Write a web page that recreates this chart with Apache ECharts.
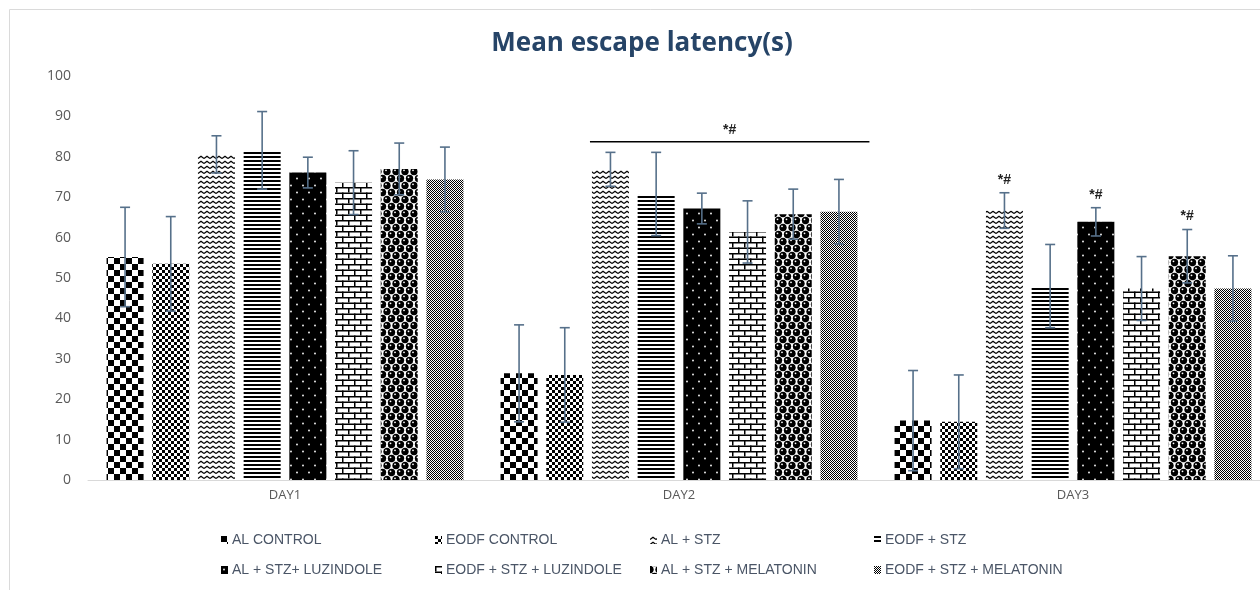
<!DOCTYPE html>
<html>
<head>
<meta charset="utf-8">
<script src="https://cdn.jsdelivr.net/npm/echarts@6/dist/echarts.min.js"></script>
<style>
html,body{margin:0;padding:0;background:#fff;overflow:hidden;width:1260px;height:590px;}
#chart{width:1290px;height:590px;}
</style>
</head>
<body>
<div id="chart"></div>
<script>
// ---------------- data ----------------
const days = ['DAY1', 'DAY2', 'DAY3'];
const groupNames = ['AL CONTROL', 'EODF CONTROL', 'AL + STZ', 'EODF + STZ',
  'AL + STZ+ LUZINDOLE', 'EODF + STZ + LUZINDOLE', 'AL + STZ + MELATONIN', 'EODF + STZ + MELATONIN'];

// mean escape latency per group, values for DAY1, DAY2, DAY3
const alControl        = [55.2, 26.4, 14.7];
const eodfControl      = [53.5, 26.0, 14.4];
const alStz            = [80.6, 76.9, 66.7];
const eodfStz          = [81.6, 70.8, 48.0];
const alStzLuz         = [76.1, 67.2, 63.9];
const eodfStzLuz       = [73.6, 61.4, 47.4];
const alStzMel         = [77.0, 65.8, 55.4];
const eodfStzMel       = [74.4, 66.4, 47.4];

// error (SD) per group, DAY1, DAY2, DAY3
const alControlErr     = [12.3, 12.0, 12.4];
const eodfControlErr   = [11.7, 11.7, 11.6];
const alStzErr         = [4.6, 4.2, 4.4];
const eodfStzErr       = [9.6, 10.3, 10.3];
const alStzLuzErr      = [3.8, 3.8, 3.5];
const eodfStzLuzErr    = [7.9, 7.7, 7.9];
const alStzMelErr      = [6.4, 6.2, 6.6];
const eodfStzMelErr    = [8.0, 8.0, 8.1];

const yTicks = [0, 10, 20, 30, 40, 50, 60, 70, 80, 90, 100];

// significance marks
const bracketMarks = [{ day: 1, fromGroup: 2, toGroup: 7, level: 83.7, text: '*#' }];
const singleMarks = [{ day: 2, group: 2, text: '*#' }, { day: 2, group: 4, text: '*#' }, { day: 2, group: 6, text: '*#' }];

const means = [alControl, eodfControl, alStz, eodfStz, alStzLuz, eodfStzLuz, alStzMel, eodfStzMel];
const errs = [alControlErr, eodfControlErr, alStzErr, eodfStzErr, alStzLuzErr, eodfStzLuzErr, alStzMelErr, eodfStzMelErr];

// ---------------- patterns ----------------
function tile(w, h, draw, bg) {
  const c = document.createElement('canvas');
  c.width = w; c.height = h;
  const g = c.getContext('2d');
  g.fillStyle = bg || '#fff';
  g.fillRect(0, 0, w, h);
  draw(g);
  return c;
}
function disc(g, x, y, r) { g.beginPath(); g.arc(x, y, r, 0, Math.PI * 2); g.fill(); }
const patterns = [
  tile(12, 12, g => { g.fillStyle = '#000'; g.fillRect(0, 0, 6, 6); g.fillRect(6, 6, 6, 6); }),
  tile(6, 6, g => { g.fillStyle = '#000'; g.fillRect(0, 0, 3, 3); g.fillRect(3, 3, 3, 3); }),
  tile(6, 5, g => { g.strokeStyle = '#000'; g.lineWidth = 1.2; g.beginPath(); g.moveTo(0, 3.6); g.lineTo(3, 1.2); g.lineTo(6, 3.6); g.stroke(); }),
  tile(4, 4, g => { g.fillStyle = '#000'; g.fillRect(0, 0, 4, 2); }),
  tile(12, 14, g => { g.fillStyle = '#fff'; disc(g, 3, 3.5, 0.9); disc(g, 9, 10.5, 0.9); }, '#000'),
  tile(12, 11, g => { g.fillStyle = '#000'; g.fillRect(0, 0, 12, 1.5); g.fillRect(0, 5.5, 12, 1.5); g.fillRect(0, 0, 1.5, 5.5); g.fillRect(6, 5.5, 1.5, 5.5); }),
  tile(9, 14, g => {
    g.fillStyle = '#000';
    [[0, 3.5], [9, 3.5], [4.5, 10.5], [0, 17.5], [9, 17.5], [4.5, -3.5]].forEach(p => disc(g, p[0], p[1], 3.7));
    g.fillStyle = '#fff';
    [[0, 3.5], [9, 3.5], [4.5, 10.5]].forEach(p => disc(g, p[0] - 1, p[1] - 1.2, 0.9));
  }),
  tile(2, 2, g => { g.fillStyle = '#000'; g.fillRect(0, 0, 1, 1); g.fillRect(1, 1, 1, 1); })
];

// ---------------- chart ----------------
const BAR_W = 37;
const GAP_RATIO = 0.235;
const PITCH = BAR_W * (1 + GAP_RATIO);

const chart = echarts.init(document.getElementById('chart'), null, { renderer: 'canvas' });

const barSeries = groupNames.map((name, i) => ({
  type: 'bar',
  name: name,
  data: means[i],
  barWidth: BAR_W,
  barGap: (GAP_RATIO * 100) + '%',
  itemStyle: { color: { image: patterns[i], repeat: 'repeat' } },
  emphasis: { disabled: true },
  animation: false
}));

const errData = [];
for (let g = 0; g < groupNames.length; g++) {
  for (let d = 0; d < days.length; d++) {
    errData.push([d, g, means[g][d], errs[g][d]]);
  }
}

const errSeries = {
  type: 'custom',
  name: 'err',
  z: 10,
  silent: true,
  animation: false,
  encode: { x: 0, y: 2 },
  data: errData,
  renderItem: function (params, api) {
    const d = api.value(0), g = api.value(1), m = api.value(2), e = api.value(3);
    const c = api.coord([d, m]);
    const x = c[0] + (g - 3.5) * PITCH;
    const yt = api.coord([d, m + e])[1];
    const yb = api.coord([d, m - e])[1];
    const st = { stroke: '#56708a', lineWidth: 1.6 };
    return {
      type: 'group',
      children: [
        { type: 'line', shape: { x1: x, y1: yt, x2: x, y2: yb }, style: st },
        { type: 'line', shape: { x1: x - 5, y1: yt, x2: x + 5, y2: yt }, style: st },
        { type: 'line', shape: { x1: x - 5, y1: yb, x2: x + 5, y2: yb }, style: st }
      ]
    };
  }
};

const singleData = singleMarks.map(s => [s.day, s.group, means[s.group][s.day] + errs[s.group][s.day], s.text]);
const singleSeries = {
  type: 'custom',
  z: 11,
  silent: true,
  animation: false,
  encode: { x: 0, y: 2 },
  data: singleData,
  renderItem: function (params, api) {
    const d = api.value(0), g = api.value(1), top = api.value(2);
    const c = api.coord([d, top]);
    return {
      type: 'text',
      style: {
        x: c[0] + (g - 3.5) * PITCH, y: c[1] - 13,
        text: singleMarks[params.dataIndex].text,
        align: 'center', verticalAlign: 'middle',
        font: 'bold 14px "Liberation Sans", sans-serif', fill: '#222'
      }
    };
  }
};

const bracketData = bracketMarks.map(b => [b.day, b.fromGroup, b.level, b.toGroup]);
const bracketSeries = {
  type: 'custom',
  z: 11,
  silent: true,
  animation: false,
  encode: { x: 0, y: 2 },
  data: bracketData,
  renderItem: function (params, api) {
    const d = api.value(0), f = api.value(1), lv = api.value(2), t = api.value(3);
    const c = api.coord([d, lv]);
    const x1 = c[0] + (f - 3.5) * PITCH - BAR_W / 2 - 2;
    const x2 = c[0] + (t - 3.5) * PITCH + BAR_W / 2 + 12;
    return {
      type: 'group',
      children: [
        { type: 'line', shape: { x1: x1, y1: c[1], x2: x2, y2: c[1] }, style: { stroke: '#000', lineWidth: 1.5 } },
        { type: 'text', style: { x: (x1 + x2) / 2, y: c[1] - 12, text: bracketMarks[params.dataIndex].text, align: 'center', verticalAlign: 'middle', font: 'bold 14px "Liberation Sans", sans-serif', fill: '#222' } }
      ]
    };
  }
};

const legendCols = [221, 435, 650, 874];
const legendRows = [532, 562];
const legends = groupNames.map((name, i) => ({
  data: [name],
  left: legendCols[i % 4],
  top: legendRows[Math.floor(i / 4)],
  padding: 0,
  itemWidth: 7,
  itemHeight: 8,
  itemGap: 0,
  icon: 'rect',
  selectedMode: false,
  textStyle: { fontFamily: '"Liberation Sans", sans-serif', fontSize: 14, color: '#4a5566', lineHeight: 16, padding: [0, 0, 0, -1] }
}));

chart.setOption({
  backgroundColor: '#fff',
  animation: false,
  title: {
    text: 'Mean escape latency(s)',
    left: 637,
    textAlign: 'center',
    top: 26,
    textStyle: { fontFamily: '"Open Sans", sans-serif', fontWeight: 'bold', fontSize: 26, color: '#264467' }
  },
  legend: legends,
  graphic: [{
    type: 'rect', silent: true, z: -10,
    shape: { x: 9.5, y: 9.5, width: 1400, height: 800 },
    style: { fill: 'none', stroke: '#dadada', lineWidth: 1 }
  }],
  grid: { left: 88, top: 76, width: 1182, height: 404, containLabel: false },
  xAxis: {
    type: 'category',
    data: days,
    axisLine: { lineStyle: { color: '#d9d9d9', width: 1 } },
    axisTick: { show: false },
    axisLabel: { color: '#595959', fontFamily: '"Open Sans", sans-serif', fontSize: 13, margin: 9 }
  },
  yAxis: {
    type: 'value',
    min: yTicks[0],
    max: yTicks[yTicks.length - 1],
    interval: yTicks[1] - yTicks[0],
    axisLine: { show: false },
    axisTick: { show: false },
    splitLine: { show: false },
    axisLabel: { color: '#595959', fontFamily: '"Open Sans", sans-serif', fontSize: 14, margin: 17 }
  },
  series: barSeries.concat([errSeries, singleSeries, bracketSeries])
});
</script>
</body>
</html>
